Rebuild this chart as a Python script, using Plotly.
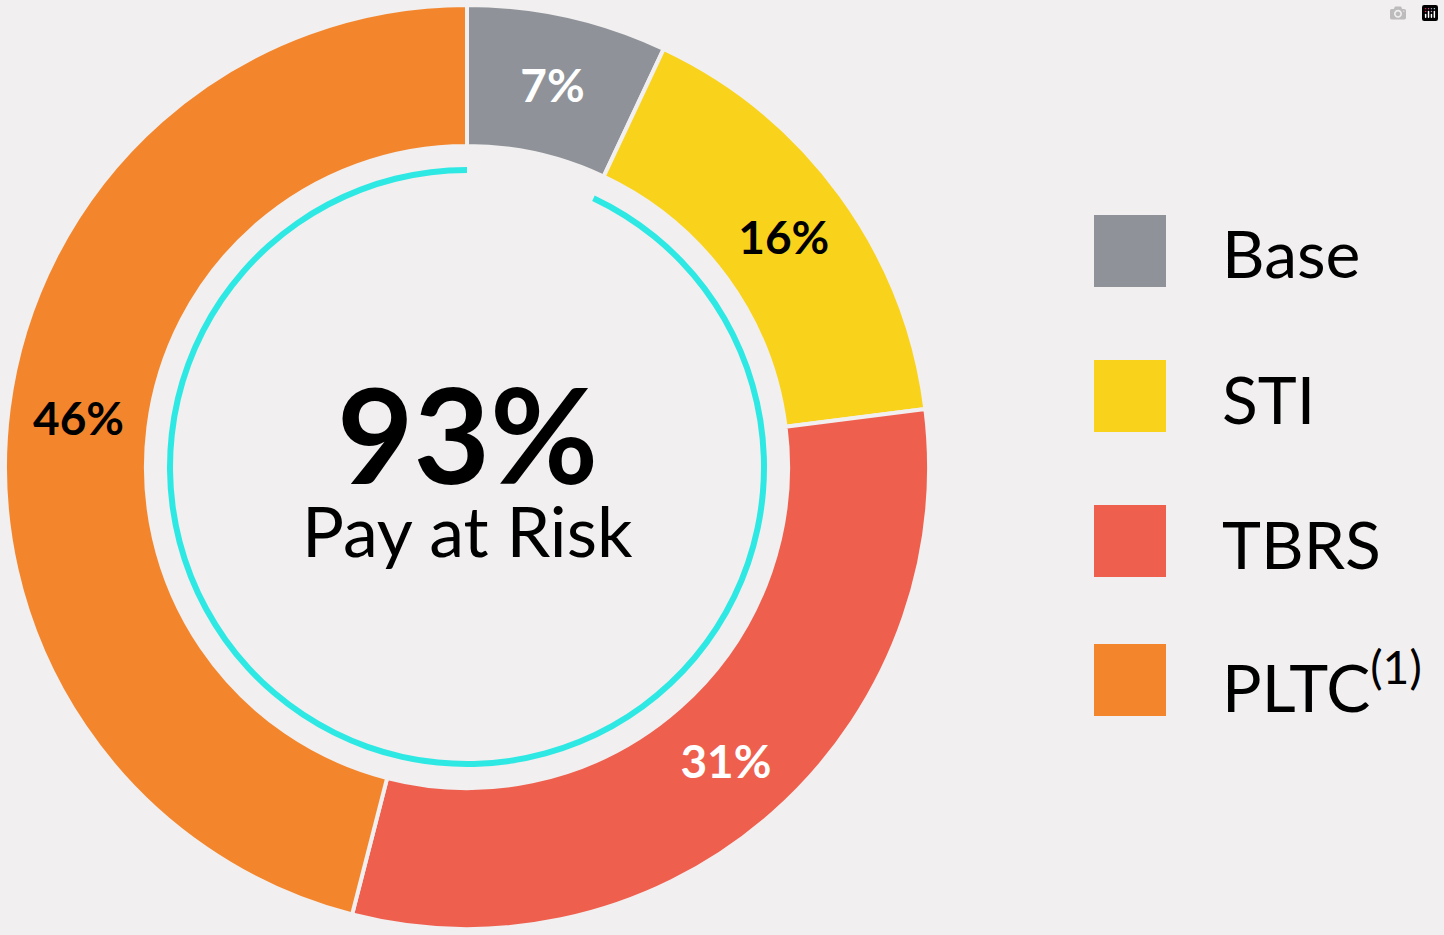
import plotly.graph_objects as go

categories = ["Base", "STI", "TBRS", "PLTC"]
legend_labels = ["Base", "STI", "TBRS", "PLTC<sup>(1)</sup>"]
values = [7, 16, 31, 46]
colors = ["#8f9399", "#f9d21b", "#ef5f4e", "#f3862d"]
text_colors = ["white", "black", "white", "black"]
at_risk = [7, 93]

W, H = 1444, 935
cx, cy, R, r2 = 467, 467, 462, 300
bg = "#f1efef"

fig = go.Figure()
fig.add_trace(go.Pie(
    values=values, labels=categories, sort=False, direction="clockwise", rotation=0,
    hole=0.695, marker=dict(colors=colors, line=dict(color=bg, width=4)),
    texttemplate="%{value}%", textposition="inside", insidetextorientation="horizontal",
    textfont=dict(family="Lato", size=46, color=text_colors, weight="bold"),
    domain=dict(x=[(cx-R)/W, (cx+R)/W], y=[1-(cy+R)/H, 1-(cy-R)/H]),
    showlegend=False, hoverinfo="skip"))
fig.add_trace(go.Pie(
    values=at_risk, sort=False, direction="clockwise", rotation=0, hole=0.98,
    marker=dict(colors=["rgba(0,0,0,0)", "#2ee8e4"], line=dict(width=0)),
    textinfo="none", showlegend=False, hoverinfo="skip",
    domain=dict(x=[(cx-r2)/W, (cx+r2)/W], y=[1-(cy+r2)/H, 1-(cy-r2)/H])))

fig.add_annotation(x=cx/W, y=1-433/H, xref="paper", yref="paper", showarrow=False,
                   xanchor="center", yanchor="middle",
                   text="<b>93%</b>", font=dict(family="Lato", size=132, color="black"))
fig.add_annotation(x=cx/W, y=1-530/H, xref="paper", yref="paper", showarrow=False,
                   xanchor="center", yanchor="middle",
                   text="Pay at Risk", font=dict(family="Lato", size=70, color="black"))

tops = [215, 360, 505, 644]
for lab, col, t in zip(legend_labels, colors, tops):
    fig.add_shape(type="rect", xref="paper", yref="paper", x0=1094/W, x1=1166/W,
                  y0=1-(t+72)/H, y1=1-t/H, fillcolor=col, line=dict(width=0))
    fig.add_annotation(x=1220/W, y=1-(t+38)/H, xref="paper", yref="paper", showarrow=False,
                       xanchor="left", yanchor="middle", text=lab,
                       font=dict(family="Lato", size=66, color="black"))

fig.update_layout(width=W, height=H, margin=dict(l=0, r=0, t=0, b=0),
                  paper_bgcolor=bg, plot_bgcolor=bg)
fig.write_html("out.html", post_script="document.body.style.margin='0';document.body.style.background='#f1efef';")
